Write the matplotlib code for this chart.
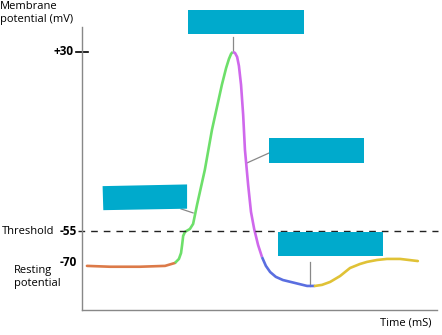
import matplotlib
matplotlib.use('Agg')
import matplotlib.pyplot as plt
from matplotlib.patches import Polygon

plt.rcParams['font.family'] = ['Open Sans', 'DejaVu Sans']

# phases of the action potential (time in ms, potential in mV)
rest_t = [0.14, 0.79, 1.63, 2.34, 2.62]
rest_v = [-71.4, -71.8, -71.8, -71.4, -70.0]

depol_t = [2.62, 2.73, 2.79, 2.82, 2.85, 2.90, 3.04, 3.13, 3.24, 3.46, 3.66, 3.94, 4.06, 4.14, 4.20, 4.25]
depol_v = [-70.0, -68.1, -65.3, -61.5, -57.2, -55.3, -53.9, -51.5, -42.5, -25.9, -7.0, 14.4, 22.4, 26.7, 29.1, 30.0]

repol_t = [4.25, 4.31, 4.37, 4.42, 4.48, 4.54, 4.59, 4.68, 4.76, 4.85, 4.96, 5.07]
repol_v = [30.0, 29.5, 27.6, 23.4, 14.4, 0.1, -16.4, -33.0, -45.8, -53.9, -61.5, -67.2]

hyper_t = [5.07, 5.18, 5.30, 5.46, 5.66, 6.00, 6.34, 6.56]
hyper_v = [-67.2, -71.4, -74.3, -76.6, -78.1, -79.5, -80.9, -80.9]

recov_t = [6.56, 6.76, 6.99, 7.27, 7.55, 7.83, 8.03, 8.31, 8.59, 8.96, 9.46]
recov_v = [-80.9, -80.4, -79.0, -76.2, -72.4, -70.5, -69.5, -68.6, -68.1, -68.1, -69.1]

threshold = -55
tick_vals = [30, -55, -70]
tick_labels = ['+30', '-55', '-70']

# blank label boxes and their pointer lines
boxes = [
    [(2.99, 38.5), (6.25, 38.5), (6.25, 49.9), (2.99, 49.9)],
    [(5.27, -22.6), (7.94, -22.6), (7.94, -10.8), (5.27, -10.8)],
    [(0.60, -45.0), (2.96, -44.3), (2.96, -32.8), (0.58, -33.6)],
    [(5.52, -66.7), (8.48, -66.7), (8.48, -55.3), (5.52, -55.3)],
]
pointers = [
    ([4.25, 4.25], [37.1, 30.0]),
    ([4.65, 5.27], [-22.6, -17.9]),
    ([2.79, 3.13], [-44.4, -46.3]),
    ([6.42, 6.42], [-69.5, -80.9]),
]

fig = plt.figure(figsize=(4.42, 3.35), dpi=100)
ax = fig.add_axes([82/442, 25/335, 355/442, 283/335])
ax.set_xlim(0, 10)
ax.set_ylim(-92.3, 41.8)

lw = 1.9
ax.plot(rest_t, rest_v, color='#dc7a48', lw=lw, solid_capstyle='round')
ax.plot(depol_t, depol_v, color='#6ddf6a', lw=lw, solid_capstyle='butt')
ax.plot(repol_t, repol_v, color='#cf68ec', lw=lw, solid_capstyle='butt')
ax.plot(hyper_t, hyper_v, color='#5a6ee0', lw=lw, solid_capstyle='butt')
ax.plot(recov_t, recov_v, color='#e0c236', lw=lw, solid_capstyle='round')

ax.plot([-0.011, 1.003], [threshold, threshold], color='#222222', lw=1,
        dashes=(4.8, 4.3), transform=ax.get_yaxis_transform(), clip_on=False)

for xs, ys in pointers:
    ax.plot(xs, ys, color='#888888', lw=0.9, zorder=1)
for pts in boxes:
    ax.add_patch(Polygon(pts, closed=True, facecolor='#00aacc', edgecolor='none',
                         clip_on=False, zorder=3))

# axes
for s in ['top', 'right']:
    ax.spines[s].set_visible(False)
for s in ['left', 'bottom']:
    ax.spines[s].set_color('#888888')
    ax.spines[s].set_linewidth(1)
ax.set_xticks([])
ax.set_yticks([])

# +30 tick mark crosses the axis
ax.plot([-6/355, 6/355], [30, 30], color='black', lw=1.2,
        transform=ax.get_yaxis_transform(), clip_on=False)

offsets = [-9, -5, -5]
for v, lab, off in zip(tick_vals, tick_labels, offsets):
    ax.annotate(lab, xy=(0, v), xycoords=('axes fraction', 'data'),
                xytext=(off, 0), textcoords='offset pixels',
                ha='right', va='center', fontsize=8.5, fontweight='bold')
ax.annotate('Threshold', xy=(0, threshold), xycoords=('axes fraction', 'data'),
            xytext=(-28, 0), textcoords='offset pixels',
            ha='right', va='center', fontsize=8)

fig.text(0, 1 - 1/335, 'Membrane\npotential (mV)', ha='left', va='top',
         fontsize=8, linespacing=1.3)
fig.text(14/442, 1 - 277/335, 'Resting\npotential', ha='left', va='center',
         fontsize=8, linespacing=1.3)
fig.text(432/442, 1 - 323/335, 'Time (mS)', ha='right', va='center', fontsize=8)

fig.savefig('out.png', dpi=100)
